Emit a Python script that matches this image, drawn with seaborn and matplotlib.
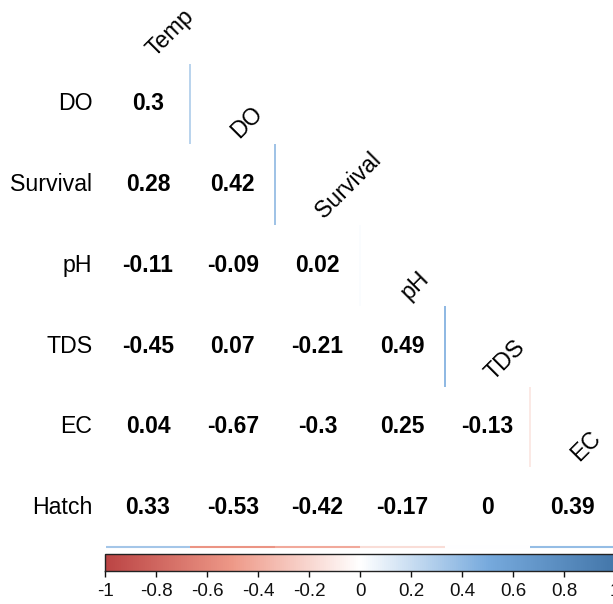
import numpy as np
import pandas as pd
import matplotlib
matplotlib.use("Agg")
import matplotlib.pyplot as plt
import seaborn as sns
from matplotlib.colors import LinearSegmentedColormap, ListedColormap, Normalize
from matplotlib.cm import ScalarMappable

# ---- data ----
variables = ["Temp", "DO", "Survival", "pH", "TDS", "EC", "Hatch"]
row_DO = [0.3]
row_Survival = [0.28, 0.42]
row_pH = [-0.11, -0.09, 0.02]
row_TDS = [-0.45, 0.07, -0.21, 0.49]
row_EC = [0.04, -0.67, -0.3, 0.25, -0.13]
row_Hatch = [0.33, -0.53, -0.42, -0.17, 0, 0.39]
lower_rows = [[], row_DO, row_Survival, row_pH, row_TDS, row_EC, row_Hatch]
cbar_ticks = [-1, -0.8, -0.6, -0.4, -0.2, 0, 0.2, 0.4, 0.6, 0.8, 1]
cbar_ticklabels = ["-1", "-0.8", "-0.6", "-0.4", "-0.2", "0", "0.2", "0.4", "0.6", "0.8", "1"]
palette = ["#BB4444", "#EE9988", "#FFFFFF", "#77AADD", "#4477AA"]

n = len(variables)
M = np.eye(n)
for i, r in enumerate(lower_rows):
    for j, v in enumerate(r):
        M[i, j] = v
        M[j, i] = v
df = pd.DataFrame(M, index=variables, columns=variables)
labels = np.array([[f"{v:g}" for v in row] for row in M])
mask = np.triu(np.ones_like(M, dtype=bool))

plt.rcParams['font.family'] = ['Liberation Sans', 'DejaVu Sans']

cmap = LinearSegmentedColormap.from_list("corr", palette, N=256)
norm = Normalize(-1, 1)

W, H = 613, 604
fig = plt.figure(figsize=(W / 100, H / 100), dpi=100)
left_px, bottom_px = 105.6, 548
ax = fig.add_axes([left_px / W, 1 - bottom_px / H, 1 - left_px / W, bottom_px / H])

sns.heatmap(df, mask=mask, annot=labels, fmt="", cmap=ListedColormap(["white"]),
            cbar=False, ax=ax, linewidths=0,
            annot_kws=dict(fontsize=16.5, fontweight="bold", color="black"))

cell_w, cell_h = 84.8, 80.8
ax.set_xlim(0, (W - left_px) / cell_w)
ax.set_ylim(n, 17.2 / cell_h)
ax.set_xticks([])
ax.set_yticks(np.arange(1, n) + 0.5)
ax.set_yticklabels(variables[1:], fontsize=16.7, rotation=0)
ax.tick_params(axis="y", length=0, pad=9.5)
for s in ax.spines.values():
    s.set_visible(False)

# diagonal labels
for k, name in enumerate(variables[:-1]):
    ax.text(k + 0.58, k + 0.5 + 0.43, name, rotation=45, rotation_mode="anchor",
            ha="left", va="baseline", fontsize=16.7, color="black", clip_on=False)

# thin coloured edges next to diagonal and below last row
for r in range(1, n - 1):
    ax.vlines(r, r, r + 1, colors=[cmap(norm(M[r, r - 1]))], lw=1.2, clip_on=False)
for j in range(n - 1):
    ax.hlines(n - 0.01, j, j + 1, colors=[cmap(norm(M[n - 1, j]))], lw=1.5, clip_on=False)

# colorbar
cax = fig.add_axes([105 / W, 1 - 571 / H, 510 / W, 17 / H])
cb = fig.colorbar(ScalarMappable(norm=norm, cmap=cmap), cax=cax, orientation="horizontal")
cb.set_ticks(cbar_ticks)
cb.set_ticklabels(cbar_ticklabels)
cb.outline.set_linewidth(1.0)
cb.outline.set_edgecolor("#222222")
cax.tick_params(axis="x", direction="out", length=4, width=1, labelsize=13.5, pad=5,
                colors="#111111")

fig.savefig("out.png", dpi=100)
